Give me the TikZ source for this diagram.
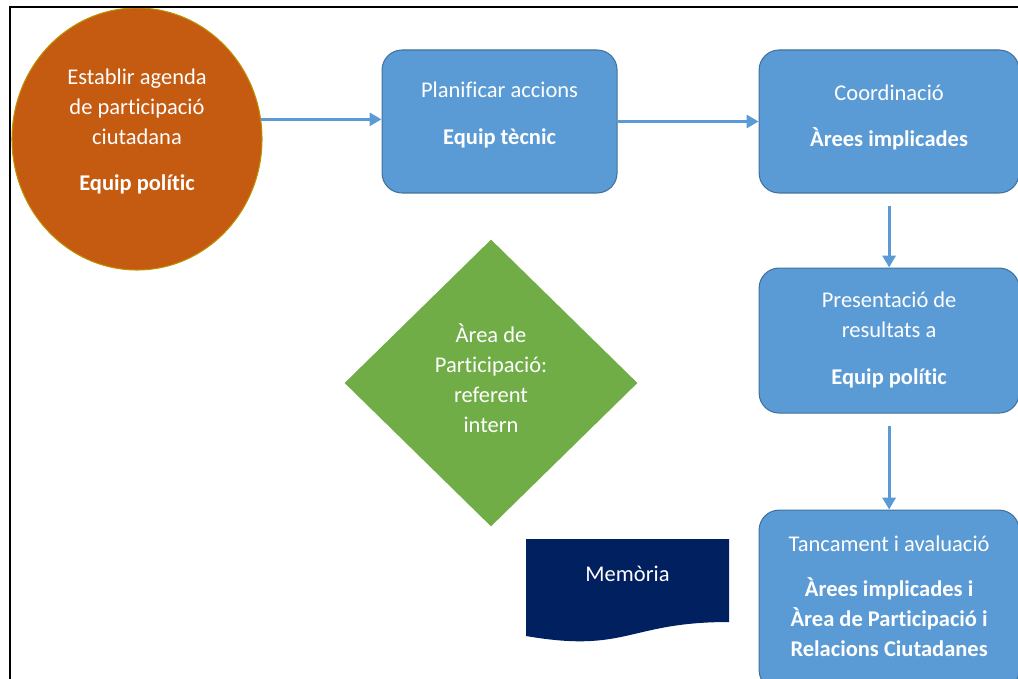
\documentclass[tikz,border=0pt]{standalone}
\usepackage{fontspec}
\setmainfont{Carlito}[Ligatures=NoCommon]
\usetikzlibrary{arrows.meta,positioning,shapes.geometric}

\definecolor{flowblue}{HTML}{5B9BD5}
\definecolor{flowedge}{HTML}{41719C}
\definecolor{agendaorange}{HTML}{C55A11}
\definecolor{agendaedge}{HTML}{BF9000}
\definecolor{areagreen}{HTML}{70AD47}
\definecolor{memonavy}{HTML}{002060}

\tikzset{
  stepbox/.style={rectangle,rounded corners=0.4cm,fill=flowblue,draw=flowedge,line width=0.6pt,
                  minimum width=5.2cm,minimum height=2.86cm,inner sep=0pt},
  lift/.style={text depth=#1},
  flow/.style={draw=flowblue,line width=1.7pt}
}

\begin{document}
\begin{tikzpicture}[->,>={Triangle[length=0.24cm,width=0.26cm]},
                    every node/.style={text=white,align=center,font=\fontsize{12.8}{17}\selectfont}]
  \useasboundingbox (0,0) rectangle (20.36,-13.58);
  \clip (0,0) rectangle (20.36,-13.58);

  \node[ellipse,fill=agendaorange,draw=agendaedge,line width=0.6pt,
        minimum width=5cm,minimum height=5.24cm,lift=10.5pt] (agenda) at (2.74,-2.78)
        {Establir agenda\\de participació\\ciutadana\\[9pt]\textbf{Equip polític}};
  \node[stepbox,minimum width=4.7cm,lift=9.4pt] (plan) [right=2.38cm of agenda,yshift=0.35cm]
        {Planificar accions\\[9.5pt]\textbf{Equip tècnic}};
  \node[stepbox,lift=6.6pt] (coord) [right=2.82cm of plan]
        {Coordinació\\[9.5pt]\textbf{Àrees implicades}};
  \node[stepbox,minimum height=2.9cm,lift=2.6pt] (pres) [below=1.48cm of coord]
        {Presentació de\\resultats a\\[9.5pt]\textbf{Equip polític}};
  \node[stepbox,minimum height=3.6cm,lift=4.5pt] (tanc) [below=1.92cm of pres]
        {Tancament i avaluació\\[8.5pt]\textbf{Àrees implicades i}\\\textbf{Àrea de Participació i}\\\textbf{Relacions Ciutadanes}};
  \node[diamond,fill=areagreen,minimum width=5.86cm,minimum height=5.74cm,inner sep=0pt,lift=5.7pt] (area) at (9.82,-7.66)
        {Àrea de\\Participació:\\referent\\intern};

  % document shape
  \fill[-,memonavy] (10.52,-10.78) -- (14.58,-10.78) -- (14.58,-12.44)
        .. controls (12.55,-12.44) and (12.55,-13.07) .. (10.52,-12.72) -- cycle;
  \node (memo) at (12.55,-11.47) {Memòria};

  \path (agenda.9) edge[flow] (agenda.9 -| plan.west)
        (plan.east) edge[flow] (plan.east -| coord.west)
        (coord) edge[flow,shorten <=0.24cm] (pres)
        (pres)  edge[flow,shorten <=0.24cm] (tanc);

  % frame
  \draw[-,line width=1.1pt,black] (0.2,-13.58) -- (0.2,-0.14) -- (20.36,-0.14);
\end{tikzpicture}
\end{document}
